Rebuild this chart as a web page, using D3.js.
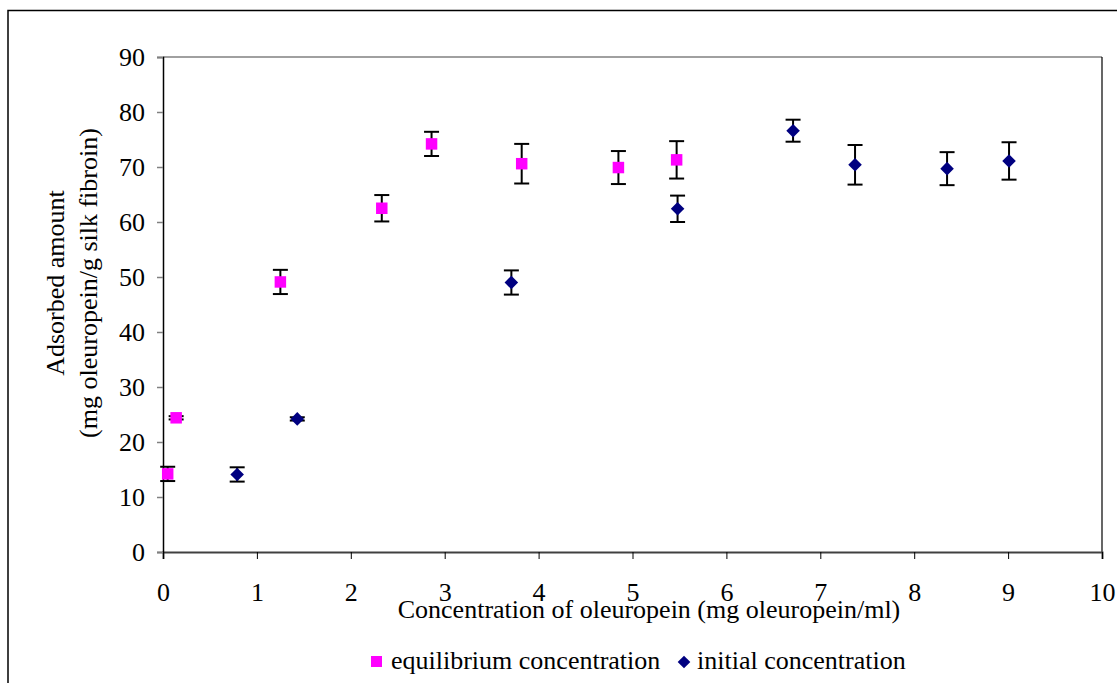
<!DOCTYPE html>
<html>
<head>
<meta charset="utf-8">
<script src="https://cdn.jsdelivr.net/npm/d3@7"></script>
<style>
  body { margin: 0; background: #fff; }
  text { font-family: "Liberation Serif", "Times New Roman", serif; fill: #000; }
</style>
</head>
<body>
<div id="chart"></div>
<script>
(function() {

    // equilibrium concentration (pink squares)
    var eqX = [0.05, 0.14, 1.25, 2.33, 2.86, 3.82, 4.85, 5.47]
    var eqY = [14.2, 24.4, 49.1, 62.5, 74.2, 70.6, 69.9, 71.3]
    var eqErr = [1.3, 0.3, 2.2, 2.4, 2.2, 3.6, 3.0, 3.4]

    // initial concentration (navy diamonds)
    var initX = [0.79, 1.43, 3.71, 5.48, 6.71, 7.37, 8.35, 9.01]
    var initY = [14.1, 24.2, 49.0, 62.4, 76.6, 70.4, 69.7, 71.1]
    var initErr = [1.3, 0.3, 2.2, 2.4, 2.0, 3.6, 3.0, 3.4]

    var xTicks = [0, 1, 2, 3, 4, 5, 6, 7, 8, 9, 10]
    var yTicks = [0, 10, 20, 30, 40, 50, 60, 70, 80, 90]

    var width = 1117, height = 683
    var left = 163, right = 1102, top = 57, bottom = 552
    var fs = "26px"

    var svg = d3.select("#chart").append("svg")
        .attr("width", width)
        .attr("height", height)

    // outer chart frame (runs off the picture at right and bottom)
    svg.append("rect")
        .attr("x", 8).attr("y", 10.5)
        .attr("width", 1130).attr("height", 700)
        .attr("fill", "none")
        .attr("stroke", "#000")
        .attr("stroke-width", 1.5)

    var x = d3.scaleLinear().domain([0, 10]).range([left, right])
    var y = d3.scaleLinear().domain([0, 90]).range([bottom, top])

    // plot area border
    svg.append("line")
        .attr("x1", left).attr("x2", right)
        .attr("y1", top).attr("y2", top)
        .attr("stroke", "#808080").attr("stroke-width", 1.5)
    svg.append("line")
        .attr("x1", right).attr("x2", right)
        .attr("y1", top).attr("y2", bottom)
        .attr("stroke", "#000").attr("stroke-width", 1.2)

    var xAxis = svg.append("g")
        .attr("transform", "translate(0," + bottom + ")")
        .call(d3.axisBottom(x).tickValues(xTicks).tickSize(7).tickPadding(24).tickFormat(d3.format("d")))
    xAxis.select(".domain").attr("stroke", "#404040").attr("stroke-width", 2)
    xAxis.selectAll(".tick line").attr("stroke", "#000")
    xAxis.selectAll("text").style("font-size", fs).attr("fill", "#000")

    var yAxis = svg.append("g")
        .attr("transform", "translate(" + left + ",0)")
        .call(d3.axisLeft(y).tickValues(yTicks).tickSize(6).tickPadding(12).tickFormat(d3.format("d")))
    yAxis.select(".domain").attr("stroke", "#000").attr("stroke-width", 1.5)
    yAxis.selectAll(".tick line").attr("stroke", "#808080").attr("stroke-width", 1.5)
    yAxis.selectAll("text").style("font-size", fs).attr("fill", "#000")

    // axis titles
    svg.append("text")
        .attr("x", 649).attr("y", 618)
        .attr("text-anchor", "middle")
        .style("font-size", fs)
        .text("Concentration of oleuropein (mg oleuropein/ml)")

    var yl = svg.append("text")
        .attr("transform", "translate(0,283) rotate(-90)")
        .attr("text-anchor", "middle")
        .style("font-size", fs)
    yl.append("tspan").attr("x", 0).attr("y", 64).text("Adsorbed amount")
    yl.append("tspan").attr("x", 0).attr("y", 97).text("(mg oleuropein/g silk fibroin)")

    function drawSeries(xs, ys, errs, diamond, color, size) {
        var data = xs.map(function(d, i) { return {x: d, y: ys[i], e: errs[i]} })
        var g = svg.append("g")
        var eb = g.selectAll("g.err").data(data).enter().append("g").attr("class", "err")
        eb.append("line")
            .attr("x1", d => x(d.x)).attr("x2", d => x(d.x))
            .attr("y1", d => y(d.y + d.e)).attr("y2", d => y(d.y - d.e))
            .attr("stroke", "#000").attr("stroke-width", 2)
        eb.append("line")
            .attr("x1", d => x(d.x) - 7.5).attr("x2", d => x(d.x) + 7.5)
            .attr("y1", d => y(d.y + d.e)).attr("y2", d => y(d.y + d.e))
            .attr("stroke", "#000").attr("stroke-width", 2)
        eb.append("line")
            .attr("x1", d => x(d.x) - 7.5).attr("x2", d => x(d.x) + 7.5)
            .attr("y1", d => y(d.y - d.e)).attr("y2", d => y(d.y - d.e))
            .attr("stroke", "#000").attr("stroke-width", 2)
        g.selectAll("path.pt").data(data).enter().append("path")
            .attr("class", "pt")
            .attr("d", d3.symbol().type(d3.symbolSquare).size(size))
            .attr("transform", function(d) {
                return "translate(" + x(d.x) + "," + y(d.y) + ")" + (diamond ? " rotate(45)" : "")
            })
            .attr("fill", color)
    }

    drawSeries(eqX, eqY, eqErr, false, "#ff00ff", 132)
    drawSeries(initX, initY, initErr, true, "#000080", 92)

    // legend
    var legend = svg.append("g").attr("transform", "translate(0,662)")
    legend.append("rect")
        .attr("x", 371).attr("y", -6).attr("width", 11).attr("height", 11)
        .attr("fill", "#ff00ff")
    legend.append("text")
        .attr("x", 391).attr("y", 7)
        .style("font-size", fs)
        .text("equilibrium concentration")
    legend.append("path")
        .attr("d", d3.symbol().type(d3.symbolSquare).size(80))
        .attr("transform", "translate(684,0) rotate(45)")
        .attr("fill", "#000080")
    legend.append("text")
        .attr("x", 697).attr("y", 7)
        .style("font-size", fs)
        .text("initial concentration")

})()
</script>
</body>
</html>
